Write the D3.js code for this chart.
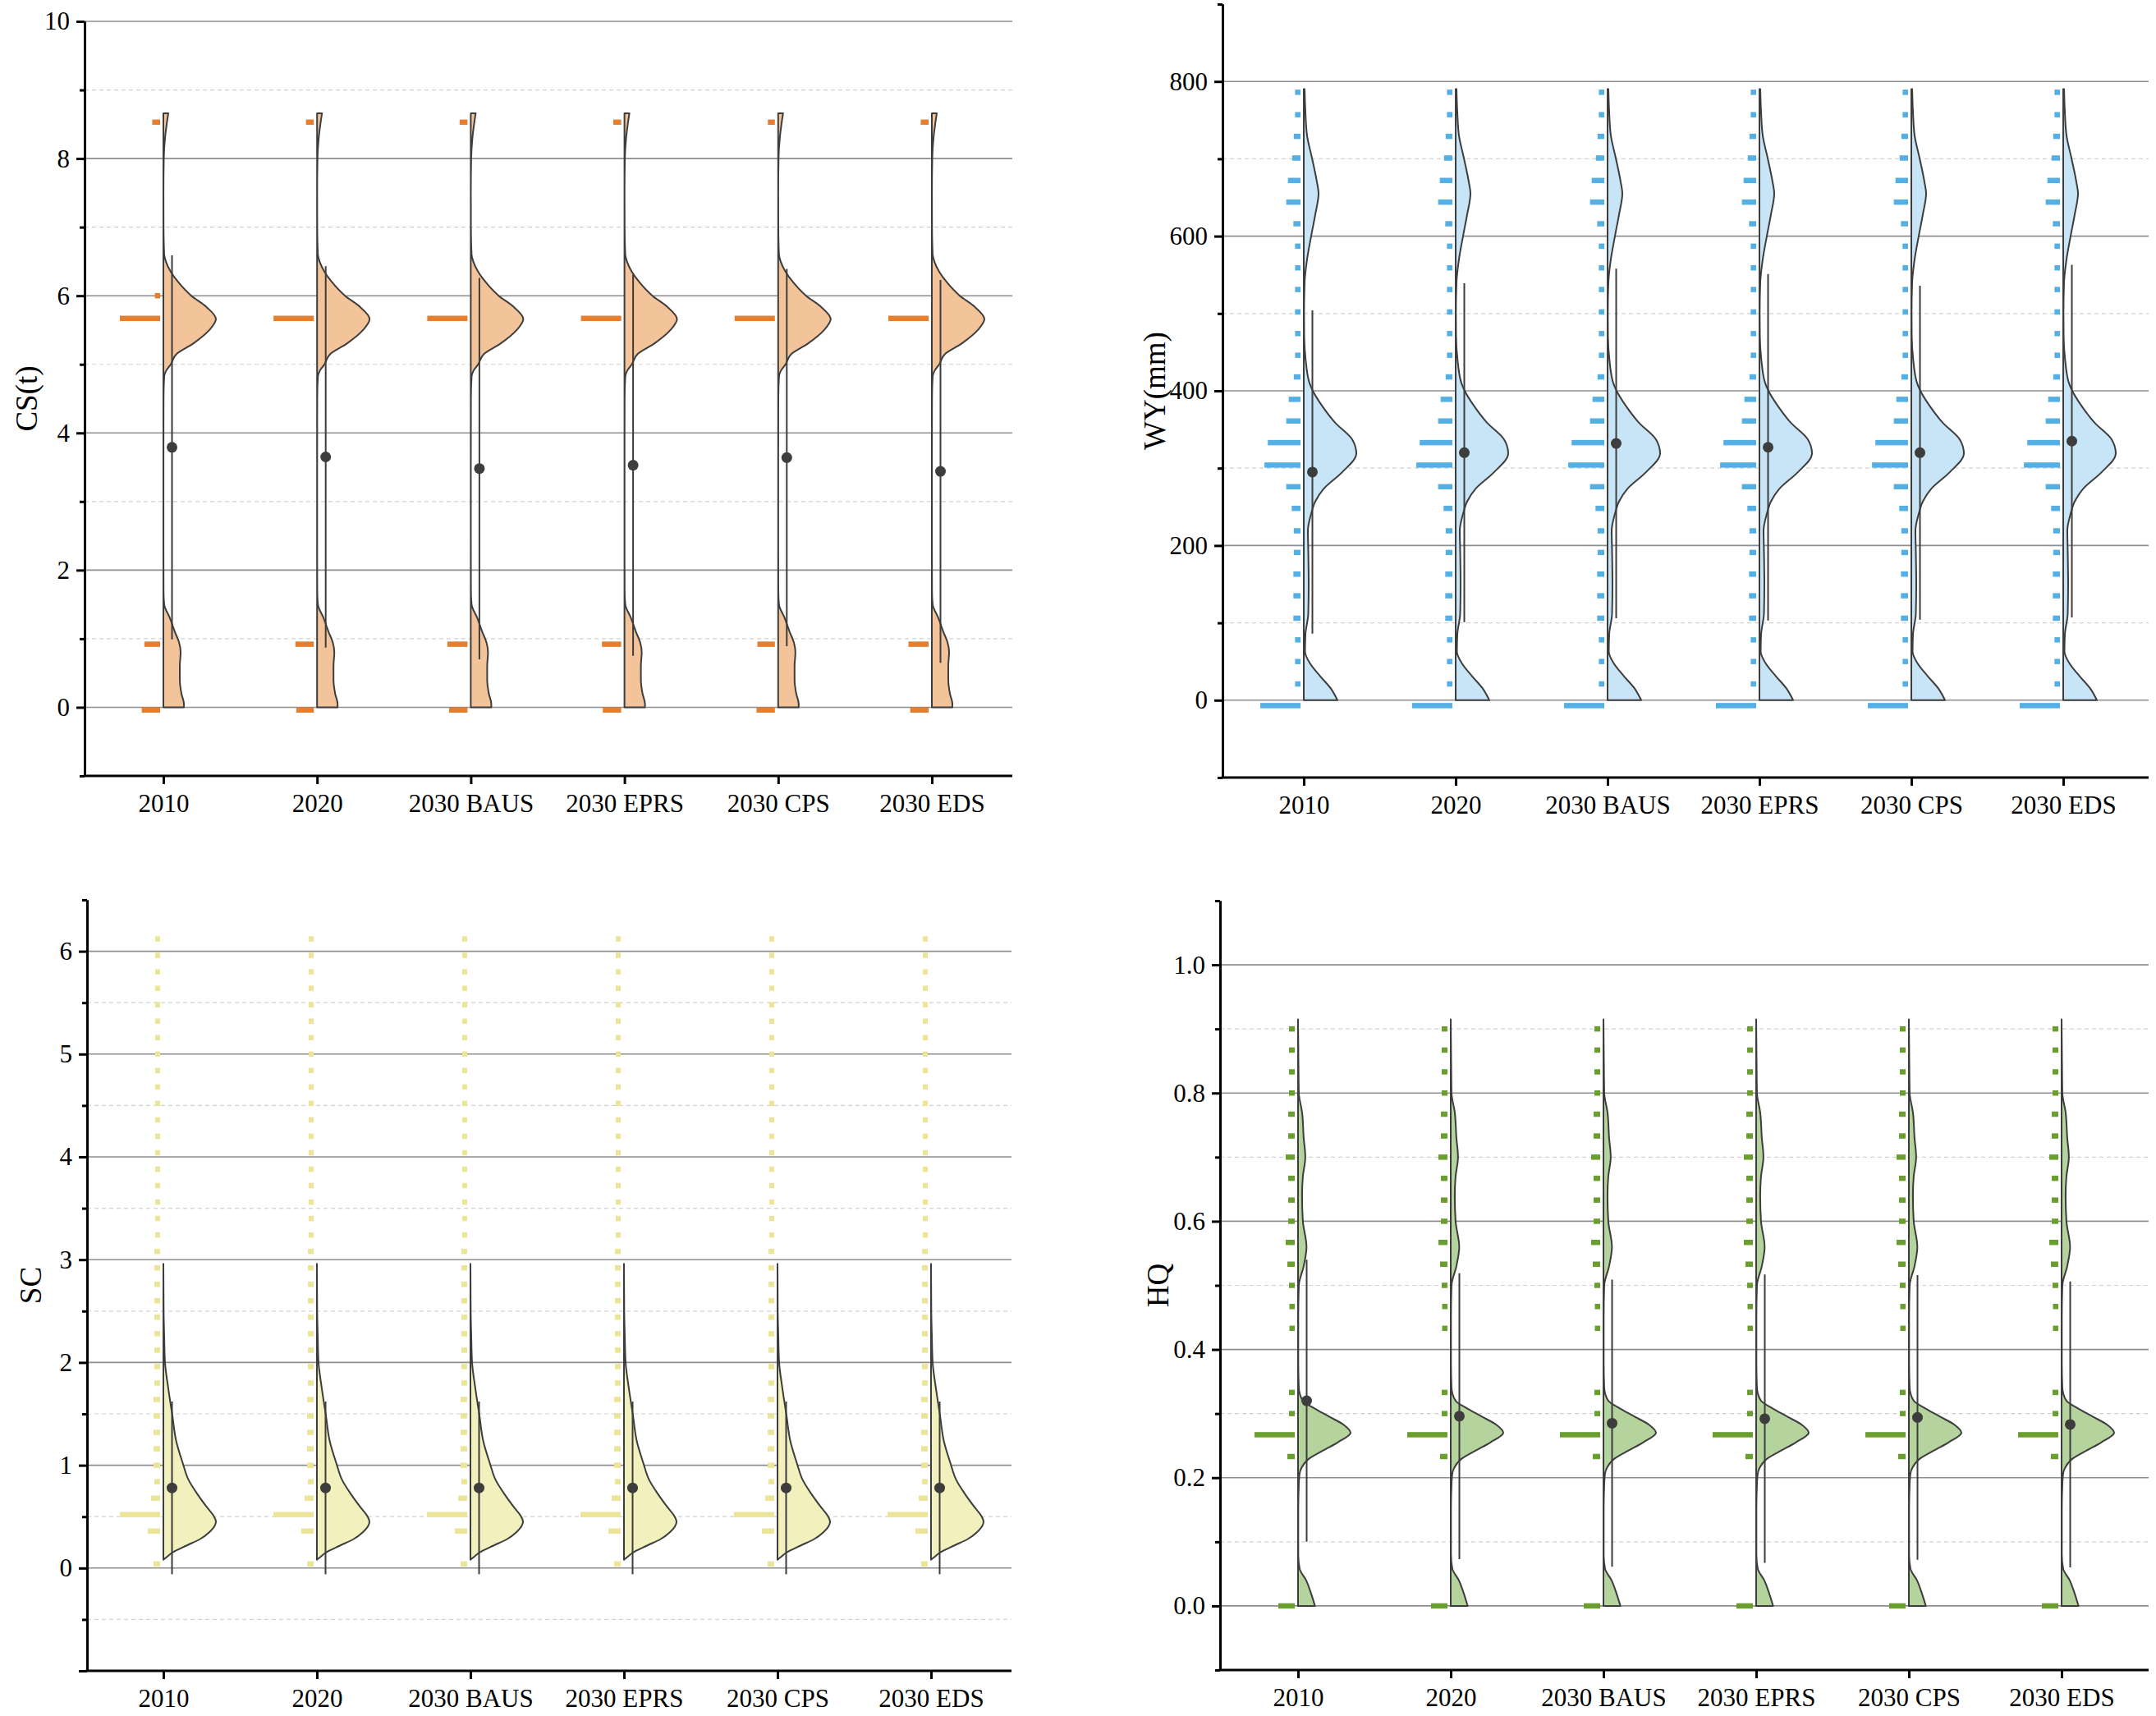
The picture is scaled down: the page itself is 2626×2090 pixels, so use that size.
<!DOCTYPE html>
<html>
<head>
<meta charset="utf-8">
<title>half violin + histogram panels</title>
<script src="https://cdn.jsdelivr.net/npm/d3@7"></script>
<style>
  body { margin: 0; background: #fff; }
  svg text { font-family: "Liberation Serif", "Times New Roman", serif; fill: #000; }
</style>
</head>
<body>
<div id="chart"></div>
<script>
  const width = 2626
  const height = 2090

  const categories = ["2010", "2020", "2030 BAUS", "2030 EPRS", "2030 CPS", "2030 EDS"]

  // CS(t)
  const csMean = [3.79, 3.65, 3.48, 3.53, 3.64, 3.44]
  const csSD = [2.80, 2.78, 2.78, 2.78, 2.75, 2.79]
  const csBins = [-0.04, 0.92, 5.67, 6.0, 8.53]
  const csCounts = [
    [21, 18, 46, 6, 9],
    [20, 21, 46, 0, 9],
    [21, 23, 46, 0, 9],
    [21, 22, 46, 0, 9],
    [21, 20, 46, 0, 8],
    [21, 23, 46, 0, 9]
  ]
  const csDensity = [
    [0, 25], [0.05, 25], [0.2, 22], [0.4, 20], [0.6, 20], [0.8, 21], [0.95, 19], [1.1, 14],
    [1.3, 8], [1.5, 1], [1.7, 0.2], [2.5, 0.1], [3.5, 0.1], [4.5, 0.2], [4.82, 1], [4.9, 3],
    [5.0, 9], [5.15, 16], [5.3, 36], [5.5, 56], [5.66, 64], [5.84, 52], [6.0, 34], [6.2, 18],
    [6.35, 9], [6.5, 3], [6.6, 1], [7.0, 0.2], [7.5, 0.1], [8.0, 0.5], [8.3, 2], [8.5, 4], [8.66, 6]
  ]

  // WY(mm)
  const wyMean = [295, 320, 332, 327, 320, 335]
  const wySD = [209, 219, 226, 224, 216, 228]
  const wyBins = [-7, 21, 50, 78, 106, 135, 163, 191, 219, 248, 276, 304, 333, 361, 389,
    418, 446, 474, 502, 531, 559, 587, 616, 644, 672, 701, 729, 757, 786]
  const wyCounts = [96, 13, 13, 13, 17, 17, 17, 16, 16, 21, 34, 86, 78, 34, 28,
    16, 13, 13, 13, 13, 13, 13, 17, 34, 30, 20, 16, 13, 13]
  const wyDensity = [
    [0, 41], [15, 33], [31, 20], [47, 8], [63, 1.5], [85, 2], [112, 5.5], [150, 6], [192, 5.5],
    [219, 5], [241, 9], [257, 14], [273, 24], [295, 47], [319, 64], [337, 59], [359, 38],
    [381, 22], [400, 11], [410, 7], [440, 2.3], [470, 0.5], [500, 0.3], [540, 1], [570, 4],
    [600, 9], [628, 14], [655, 18], [670, 16], [701, 10], [730, 4], [760, 2], [790, 1]
  ]

  // SC
  const scMean = [0.78, 0.78, 0.78, 0.78, 0.78, 0.78]
  const scSD = [0.84, 0.84, 0.84, 0.84, 0.84, 0.84]
  const scBins = [0.04, 0.20, 0.36, 0.52, 0.68, 0.84, 1.00, 1.16, 1.32, 1.48, 1.64, 1.80, 1.96,
    2.12, 2.28, 2.44, 2.60, 2.76, 2.92, 3.08, 3.24, 3.40, 3.56, 3.72, 3.88, 4.04, 4.20, 4.36,
    4.52, 4.68, 4.84, 5.00, 5.16, 5.32, 5.48, 5.64, 5.80, 5.96, 6.12]
  const scCounts = [16, 0, 30, 98, 22, 14, 16, 16, 16, 16, 16, 14, 14,
    14, 14, 14, 14, 14, 14, 14, 12, 12, 12, 12, 12, 12, 12, 12,
    12, 12, 12, 12, 12, 12, 12, 12, 12, 12, 12]
  const scDensity = [
    [0.08, 0], [0.1, 3], [0.15, 11], [0.22, 29], [0.28, 45], [0.35, 57], [0.45, 65], [0.51, 62],
    [0.59, 54], [0.72, 42], [0.86, 31], [1.02, 24], [1.23, 16], [1.49, 11], [1.75, 6],
    [2.0, 2], [2.26, 1], [2.5, 0.3], [2.96, 0]
  ]

  // HQ
  const hqMean = [0.320, 0.296, 0.285, 0.292, 0.294, 0.283]
  const hqSD = [0.220, 0.223, 0.224, 0.225, 0.222, 0.223]
  const hqBins = [0.0, 0.233, 0.267, 0.3, 0.333, 0.433, 0.467, 0.5, 0.533, 0.567, 0.6,
    0.633, 0.667, 0.7, 0.733, 0.767, 0.8, 0.833, 0.867, 0.9]
  const hqCounts = [40, 18, 98, 14, 14, 13, 13, 14, 18, 22, 16, 16, 16, 22, 16, 16, 14, 14, 14, 14]
  const hqDensity = [
    [0, 21], [0.02, 16], [0.04, 10], [0.058, 2], [0.08, 0.3], [0.15, 0.3], [0.19, 1], [0.207, 2],
    [0.217, 5], [0.228, 12], [0.241, 29], [0.255, 49], [0.27, 65], [0.282, 57], [0.295, 39],
    [0.309, 19], [0.32, 6], [0.34, 1], [0.38, 0.3], [0.45, 0.3], [0.5, 1], [0.53, 7], [0.56, 10.5],
    [0.6, 6], [0.64, 5], [0.67, 6], [0.70, 9], [0.73, 7], [0.77, 5], [0.8, 1], [0.85, 0.5], [0.915, 0]
  ]

  // layout: left = y axis, right = end of x axis, c0/c1 = first/last category centre
  const panels = [
    { title: "CS(t)", left: 103, right: 1233, c0: 199, c1: 1135, top: 26, bottom: 945, domain: [-1, 10],
      minor: 1, major: 2, labelMax: 10, fmt: d3.format("d"), titleX: 32,
      bar: "#e67e2e", fill: "#f3c39a",
      mean: csMean, sd: csSD, bins: csBins, counts: csCounts, density: csDensity },
    { title: "WY(mm)", left: 1489, right: 2617, c0: 1588, c1: 2513, top: 5, bottom: 947, domain: [-100, 900],
      minor: 100, major: 200, labelMax: 800, fmt: d3.format("d"), titleX: 1406,
      bar: "#54b0e4", fill: "#c7e5f6",
      mean: wyMean, sd: wySD, bins: wyBins, counts: categories.map(() => wyCounts), density: wyDensity },
    { title: "SC", left: 106, right: 1232, c0: 199, c1: 1134, top: 1096, bottom: 2035, domain: [-1, 6.5],
      minor: 0.5, major: 1, labelMax: 6, fmt: d3.format("d"), titleX: 37,
      bar: "#ece597", fill: "#f2f0bd",
      mean: scMean, sd: scSD, bins: scBins, counts: categories.map(() => scCounts), density: scDensity },
    { title: "HQ", left: 1486, right: 2617, c0: 1581, c1: 2511, top: 1097, bottom: 2034, domain: [-0.1, 1.1],
      minor: 0.1, major: 0.2, labelMax: 1.0, fmt: d3.format(".1f"), titleX: 1410,
      bar: "#6a9f2f", fill: "#b5d39d",
      mean: hqMean, sd: hqSD, bins: hqBins, counts: categories.map(() => hqCounts), density: hqDensity }
  ]

  const svg = d3.select("#chart")
    .append("svg")
    .attr("width", width)
    .attr("height", height)

  const outline = "#3d3d3d"
  const barH = 6.5
  const barGap = 4
  const dotOffset = 10.5

  panels.forEach(p => {
    const g = svg.append("g")

    const y = d3.scaleLinear().domain(p.domain).range([p.bottom, p.top])
    const x = d3.scalePoint().domain(categories).range([p.c0, p.c1]).padding(0)

    // tick values
    const n = Math.round((p.domain[1] - p.domain[0]) / p.minor)
    const all = d3.range(n + 1).map(i => +(p.domain[0] + i * p.minor).toFixed(6))
    const isMajor = v => Math.abs(v / p.major - Math.round(v / p.major)) < 1e-6
    const majors = all.filter(isMajor)
    const minors = all.filter(v => !isMajor(v))
    const labelled = majors.filter(v => v >= 0 && v <= p.labelMax + 1e-9)

    // grid
    g.append("g").selectAll("line")
      .data(minors.filter(v => v > p.domain[0] && v < p.domain[1]))
      .enter().append("line")
      .attr("x1", p.left).attr("x2", p.right)
      .attr("y1", d => y(d)).attr("y2", d => y(d))
      .attr("stroke", "#d2d2d2")
      .attr("stroke-width", 1.2)
      .attr("stroke-dasharray", "5,4")

    g.append("g").selectAll("line")
      .data(labelled)
      .enter().append("line")
      .attr("x1", p.left).attr("x2", p.right)
      .attr("y1", d => y(d)).attr("y2", d => y(d))
      .attr("stroke", "#8e8e8e")
      .attr("stroke-width", 1.6)

    // histogram bars (to the left of each category)
    const maxCount = d3.max(p.counts.flat())
    const len = d3.scaleLinear().domain([0, maxCount]).range([0, 49])

    categories.forEach((c, i) => {
      const cx = x(c)
      const rows = p.bins.map((b, j) => ({ v: b, n: p.counts[i][j] })).filter(d => d.n > 0)
      g.append("g").selectAll("rect")
        .data(rows)
        .enter().append("rect")
        .attr("x", d => cx - barGap - len(d.n))
        .attr("y", d => y(d.v) - barH / 2)
        .attr("width", d => len(d.n))
        .attr("height", barH)
        .attr("fill", p.bar)
    })

    // half violins
    const w = d3.scaleLinear().domain([0, d3.max(p.density, d => d[1])]).range([0, 64])
    categories.forEach((c, i) => {
      const cx = x(c)
      const area = d3.area()
        .y(d => y(d[0]))
        .x0(cx)
        .x1(d => cx + w(d[1]))
        .curve(d3.curveMonotoneY)
      g.append("path")
        .datum(p.density)
        .attr("d", area)
        .attr("fill", p.fill)
        .attr("stroke", outline)
        .attr("stroke-width", 2)
        .attr("stroke-linejoin", "round")
    })

    // mean +- sd
    categories.forEach((c, i) => {
      const cx = x(c) + dotOffset
      g.append("line")
        .attr("x1", cx).attr("x2", cx)
        .attr("y1", y(p.mean[i] - p.sd[i]))
        .attr("y2", y(p.mean[i] + p.sd[i]))
        .attr("stroke", outline)
        .attr("stroke-width", 2)
      g.append("circle")
        .attr("cx", cx)
        .attr("cy", y(p.mean[i]))
        .attr("r", 6.5)
        .attr("fill", outline)
    })

    // axes
    const minorAxis = d3.axisLeft(y).tickValues(minors).tickSize(6).tickSizeOuter(0).tickFormat("")
    const majorAxis = d3.axisLeft(y).tickValues(majors).tickSize(10).tickSizeOuter(0).tickPadding(8)
      .tickFormat(v => (v >= 0 && v <= p.labelMax + 1e-9) ? p.fmt(v) : "")

    const ya = g.append("g").attr("transform", `translate(${p.left},0)`)
    ya.call(minorAxis)
    ya.append("g").call(majorAxis)
    ya.selectAll("text").attr("font-size", 31).style("font-family", "Liberation Serif")
    ya.selectAll("path.domain").attr("stroke", "#000").attr("stroke-width", 3)
    ya.selectAll(".tick line").attr("stroke", "#000").attr("stroke-width", 3)

    const xa = g.append("g")
      .attr("transform", `translate(0,${p.bottom})`)
      .call(d3.axisBottom(x).tickSize(10).tickSizeOuter(0).tickPadding(12))
    xa.select("path.domain").attr("stroke", "#000").attr("stroke-width", 3)
      .attr("d", `M${p.left - 1.5},0H${p.right}`)
    xa.selectAll(".tick line").attr("stroke", "#000").attr("stroke-width", 3)
    xa.selectAll("text").attr("font-size", 31).style("font-family", "Liberation Serif")

    g.append("text")
      .attr("transform", `translate(${p.titleX},${(p.top + p.bottom) / 2}) rotate(-90)`)
      .attr("text-anchor", "middle")
      .attr("dominant-baseline", "central")
      .attr("font-size", 37)
      .text(p.title)
  })
</script>
</body>
</html>
